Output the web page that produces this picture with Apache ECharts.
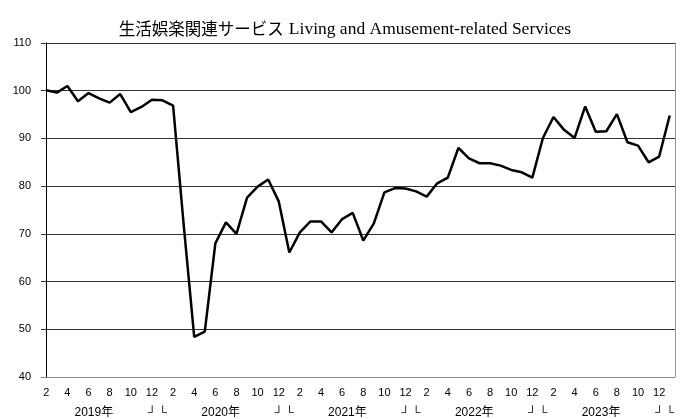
<!DOCTYPE html>
<html>
<head>
<meta charset="utf-8">
<script src="https://cdn.jsdelivr.net/npm/echarts@6/dist/echarts.min.js"></script>
<style>
  html, body { margin: 0; padding: 0; background: #fff; }
  #chart { width: 690px; height: 419px; }
</style>
</head>
<body>
<div id="chart"></div>
<script>
// months shown on the axis, Feb 2019 .. Jan 2024
const months = [
  '2019/2', '2019/3', '2019/4', '2019/5', '2019/6', '2019/7', '2019/8', '2019/9', '2019/10', '2019/11', '2019/12',
  '2020/1', '2020/2', '2020/3', '2020/4', '2020/5', '2020/6', '2020/7', '2020/8', '2020/9', '2020/10', '2020/11', '2020/12',
  '2021/1', '2021/2', '2021/3', '2021/4', '2021/5', '2021/6', '2021/7', '2021/8', '2021/9', '2021/10', '2021/11', '2021/12',
  '2022/1', '2022/2', '2022/3', '2022/4', '2022/5', '2022/6', '2022/7', '2022/8', '2022/9', '2022/10', '2022/11', '2022/12',
  '2023/1', '2023/2', '2023/3', '2023/4', '2023/5', '2023/6', '2023/7', '2023/8', '2023/9', '2023/10', '2023/11', '2023/12',
  '2024/1'
];

const values = [
  100.1, 99.6, 101.0, 97.8, 99.5, 98.4, 97.5, 99.3, 95.5, 96.6, 98.1,
  98.0, 96.9, 72.0, 48.4, 49.5, 68.0, 72.4, 70.0, 77.6, 79.9, 81.4, 76.8,
  66.1, 70.3, 72.6, 72.6, 70.3, 73.1, 74.4, 68.6, 72.2, 78.7, 79.6, 79.5,
  78.9, 77.8, 80.6, 81.8, 88.0, 85.8, 84.8, 84.8, 84.3, 83.4, 82.9, 81.8,
  90.1, 94.5, 91.8, 90.1, 96.7, 91.4, 91.5, 95.1, 89.2, 88.5, 85.0, 86.2,
  94.8
];

// second label row: year names and year-boundary marks (position = category index)
const yearRow = [
  [4.5, '2019年'], [10, '┘'], [11, '└'],
  [16.5, '2020年'], [22, '┘'], [23, '└'],
  [28.5, '2021年'], [34, '┘'], [35, '└'],
  [40.5, '2022年'], [46, '┘'], [47, '└'],
  [52.5, '2023年'], [58, '┘'], [59, '└']
];

const yTicks = [40, 110, 10];

const chart = echarts.init(document.getElementById('chart'));

const labelFont = '"Liberation Sans", "Noto Sans CJK JP", sans-serif';

chart.setOption({
  animation: false,
  title: {
    text: '{jp|生活娯楽関連サービス} {en|Living and Amusement-related Services}',
    left: 'center',
    top: 15,
    textStyle: {
      rich: {
        jp: { fontFamily: '"Noto Sans CJK JP"', fontSize: 16.5, fontWeight: 'normal', color: '#000' },
        en: { fontFamily: '"Liberation Serif", serif', fontSize: 17.5, fontWeight: 'normal', color: '#000' }
      }
    }
  },
  grid: { left: 41, right: 15, top: 43, bottom: 42 },
  xAxis: [
    {
      type: 'category',
      data: months,
      boundaryGap: true,
      axisLine: { lineStyle: { color: '#888', width: 1 } },
      axisTick: { show: false },
      axisLabel: {
        interval: 1,
        margin: 10,
        color: '#000',
        fontSize: 11,
        fontFamily: labelFont,
        formatter: (v) => v.split('/')[1]
      },
      splitLine: { show: false }
    },
    {
      type: 'value',
      position: 'bottom',
      min: -0.5,
      max: 59.5,
      interval: 0.5,
      axisLine: { show: false },
      axisTick: { show: false },
      splitLine: { show: false },
      axisLabel: {
        margin: 30,
        color: '#000',
        fontSize: 12,
        fontFamily: labelFont,
        formatter: (v) => {
          const hit = yearRow.find((r) => Math.abs(r[0] - v) < 0.01);
          return hit ? hit[1] : '';
        }
      }
    }
  ],
  yAxis: [
    {
      type: 'value',
      min: yTicks[0],
      max: yTicks[1],
      interval: yTicks[2],
      axisLine: { show: true, lineStyle: { color: '#000', width: 1 } },
      axisTick: { show: false },
      axisLabel: {
        margin: 10,
        color: '#000',
        fontSize: 11,
        fontFamily: labelFont
      },
      splitLine: { lineStyle: { color: '#333', width: 1 } }
    },
    {
      type: 'value',
      position: 'right',
      min: yTicks[0],
      max: yTicks[1],
      interval: yTicks[2],
      axisLine: { show: true, lineStyle: { color: '#999', width: 1 } },
      axisTick: { show: false },
      axisLabel: { show: false },
      splitLine: { show: false }
    }
  ],
  series: [
    {
      type: 'line',
      data: values,
      xAxisIndex: 0,
      yAxisIndex: 0,
      symbol: 'none',
      lineStyle: { color: '#000', width: 2.5 }
    }
  ]
});
</script>
</body>
</html>
